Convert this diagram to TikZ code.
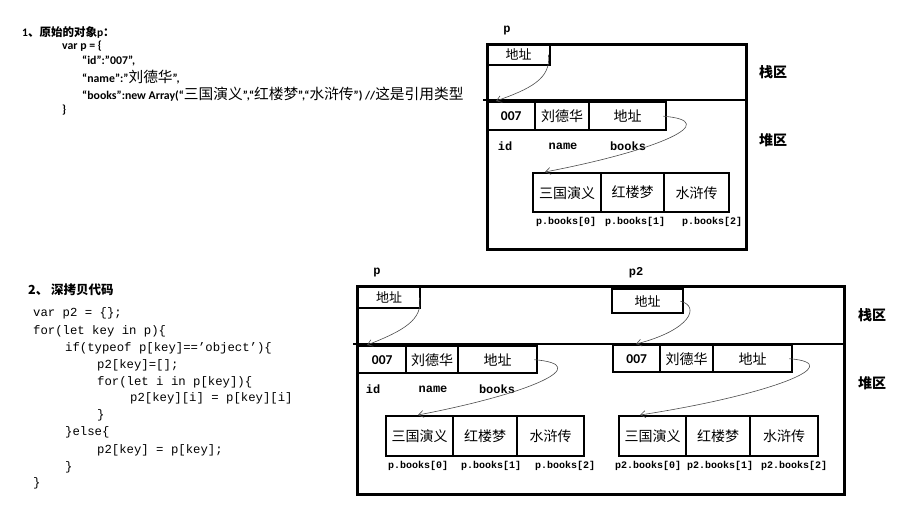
\documentclass[tikz,border=0pt]{standalone}
\usepackage{fontspec}
\setmainfont{Carlito}
\setmonofont{Liberation Mono}
\newfontfamily\cjk{Noto Sans CJK SC}
\newcommand\zh[1]{{\cjk #1}}
\newcommand\zhr[1]{{\cjk\mdseries\fontsize{14.7}{14.7}\selectfont #1}}
\usetikzlibrary{arrows.meta}
\begin{document}
\begin{tikzpicture}[x=1pt,y=-1pt,
  box/.style={draw, line width=2.4pt},
  outer/.style={draw, line width=2.6pt, anchor=north west, inner sep=0pt},
  cell/.style={draw, line width=2.4pt, anchor=north west, inner sep=0pt, font=\cjk\fontsize{14}{14}\selectfont},
  numcell/.style={cell, font=\bfseries\fontsize{13.5}{13.5}\selectfont},
  head/.style={anchor=west, inner sep=0pt, font=\bfseries\fontsize{11.8}{11.8}\selectfont},
  code/.style={anchor=west, inner sep=0pt, font=\ttfamily\fontsize{12.3}{12.3}\selectfont},
  lab/.style={inner sep=0pt, font=\ttfamily\bfseries\fontsize{12}{12}\selectfont},
  idx/.style={inner sep=0pt, font=\ttfamily\bfseries\fontsize{10}{10}\selectfont},
  area/.style={inner sep=0pt, font=\cjk\bfseries\fontsize{14}{14}\selectfont},
  link/.style={draw=black!70, line width=0.6pt, -{Straight Barb[length=5pt,width=7pt]}}
]
\useasboundingbox (0,0) rectangle (902,514);

% ---------- section 1 text ----------
\node[head, font=\bfseries\fontsize{11.5}{11.5}\selectfont] (s1a) at (22,32) {1\zh{、原始的对象}p\zh{：}};
\node[head] (s1b) at (62,46) {var p = \{};
\node[head] (s1c) at (82,61) {“id”:”007”,};
\node[head] (s1d) at (82,77) {“name”:”\zhr{刘德华}”,};
\node[head] (s1e) at (82,94) {“books”:new Array(“\zhr{三国演义}”,“\zhr{红楼梦}”,“\zhr{水浒传}”) //\zhr{这是引用类型}};
\node[head] (s1f) at (62,110) {\}};

% ---------- section 2 text ----------
\node[head, font=\cjk\bfseries\fontsize{12.5}{12.5}\selectfont] (s2a) at (28,290) {2、 深拷贝代码};
\node[code] (c1) at (33,313) {var p2 = \{\};};
\node[code] (c2) at (33,331) {for(let key in p)\{};
\node[code] (c3) at (65,348) {if(typeof p[key]==’object’)\{};
\node[code] (c4) at (97,365) {p2[key]=[];};
\node[code] (c5) at (97,382) {for(let i in p[key])\{};
\node[code] (c6) at (130,398) {p2[key][i] = p[key][i]};
\node[code] (c7) at (97,415) {\}};
\node[code] (c8) at (65,432) {\}else\{};
\node[code] (c9) at (97,450) {p2[key] = p[key];};
\node[code] (c10) at (65,467) {\}};
\node[code] (c11) at (33,483) {\}};

% ---------- top memory diagram ----------
\node[lab] (tp) at (507,31) {p};
\node[outer, minimum width=259pt, minimum height=205pt] (tmem) at (486,43) {};
\coordinate (tdl) at (483,100);
\coordinate (tdr) at (745,100);
\draw[box] (tdl) -- (tdr);
\node[cell, minimum width=63pt, minimum height=21pt, font=\cjk\fontsize{13}{13}\selectfont] (tsa) at (486,43) {地址};
\node[numcell, minimum width=48pt, minimum height=28pt] (th1) at (486,101) {007};
\node[cell, minimum width=54pt, minimum height=28pt] (th2) at (534,101) {刘德华};
\node[cell, minimum width=77pt, minimum height=28pt] (th3) at (588,101) {地址};
\node[lab] (tl1) at (505,146) {id};
\node[lab] (tl2) at (563,146) {name};
\node[lab] (tl3) at (628,146) {books};
\node[cell, minimum width=68pt, minimum height=39pt] (tb0) at (532,172) {三国演义};
\node[cell, minimum width=63pt, minimum height=39pt] (tb1) at (600,172) {红楼梦};
\node[cell, minimum width=65pt, minimum height=39pt] (tb2) at (663,172) {水浒传};
\node[idx] (ti0) at (566,222) {p.books[0]};
\node[idx] (ti1) at (635,222) {p.books[1]};
\node[idx] (ti2) at (712,222) {p.books[2]};
\node[area] (tstack) at (773,72) {栈区};
\node[area] (theap) at (773,140) {堆区};
\draw[link] ([xshift=-3pt]tsa.east) .. controls +(3,24) and +(34,-12) .. ([xshift=10pt]th1.north west);
\draw[link] ([xshift=-4pt]th3.east) .. controls +(60,5) and +(115,-22) .. ([xshift=13pt]tb0.north west);

% ---------- bottom memory diagram ----------
\node[lab] (bp) at (377,273) {p};
\node[lab] (bp2) at (636,273) {p2};
\node[outer, minimum width=487pt, minimum height=208pt] (bmem) at (356,285) {};
\coordinate (bdl) at (353,344);
\coordinate (bdr) at (843,344);
\draw[box] (bdl) -- (bdr);
% p
\node[cell, minimum width=62pt, minimum height=21pt, font=\cjk\fontsize{13}{13}\selectfont] (bsa) at (357,286) {地址};
\node[numcell, minimum width=48pt, minimum height=27pt] (bh1) at (357,345) {007};
\node[cell, minimum width=52pt, minimum height=27pt] (bh2) at (405,345) {刘德华};
\node[cell, minimum width=79pt, minimum height=27pt] (bh3) at (457,345) {地址};
\node[lab] (bl1) at (373,389) {id};
\node[lab] (bl2) at (433,389) {name};
\node[lab] (bl3) at (497,389) {books};
\node[cell, minimum width=67pt, minimum height=40pt] (bb0) at (385,415) {三国演义};
\node[cell, minimum width=64pt, minimum height=40pt] (bb1) at (452,415) {红楼梦};
\node[cell, minimum width=67pt, minimum height=40pt] (bb2) at (516,415) {水浒传};
\node[idx] (bi0) at (418,466) {p.books[0]};
\node[idx] (bi1) at (491,466) {p.books[1]};
\node[idx] (bi2) at (565,466) {p.books[2]};
% p2
\node[cell, minimum width=71pt, minimum height=24pt, font=\cjk\fontsize{13}{13}\selectfont] (csa) at (611,288) {地址};
\node[numcell, minimum width=47pt, minimum height=27pt] (ch1) at (612,344) {007};
\node[cell, minimum width=53pt, minimum height=27pt] (ch2) at (659,344) {刘德华};
\node[cell, minimum width=79pt, minimum height=27pt] (ch3) at (712,344) {地址};
\node[cell, minimum width=67pt, minimum height=40pt] (cb0) at (618,415) {三国演义};
\node[cell, minimum width=64pt, minimum height=40pt] (cb1) at (685,415) {红楼梦};
\node[cell, minimum width=68pt, minimum height=40pt] (cb2) at (749,415) {水浒传};
\node[idx] (ci0) at (648,466) {p2.books[0]};
\node[idx] (ci1) at (720,466) {p2.books[1]};
\node[idx] (ci2) at (794,466) {p2.books[2]};
\node[area] (bstack) at (872,315) {栈区};
\node[area] (bheap) at (872,383) {堆区};
\draw[link] ([xshift=-2pt]bsa.east) .. controls +(4,22) and +(36,-14) .. ([xshift=10pt]bh1.north west);
\draw[link] ([xshift=-4pt]bh3.east) .. controls +(60,5) and +(115,-22) .. ([xshift=33pt]bb0.north west);
\draw[link] ([xshift=-4pt]csa.east) .. controls +(20,5) and +(55,-14) .. ([xshift=24pt]ch1.north west);
\draw[link] ([xshift=-4pt]ch3.east) .. controls +(60,5) and +(130,-20) .. ([xshift=22pt]cb0.north west);
\end{tikzpicture}
\end{document}
